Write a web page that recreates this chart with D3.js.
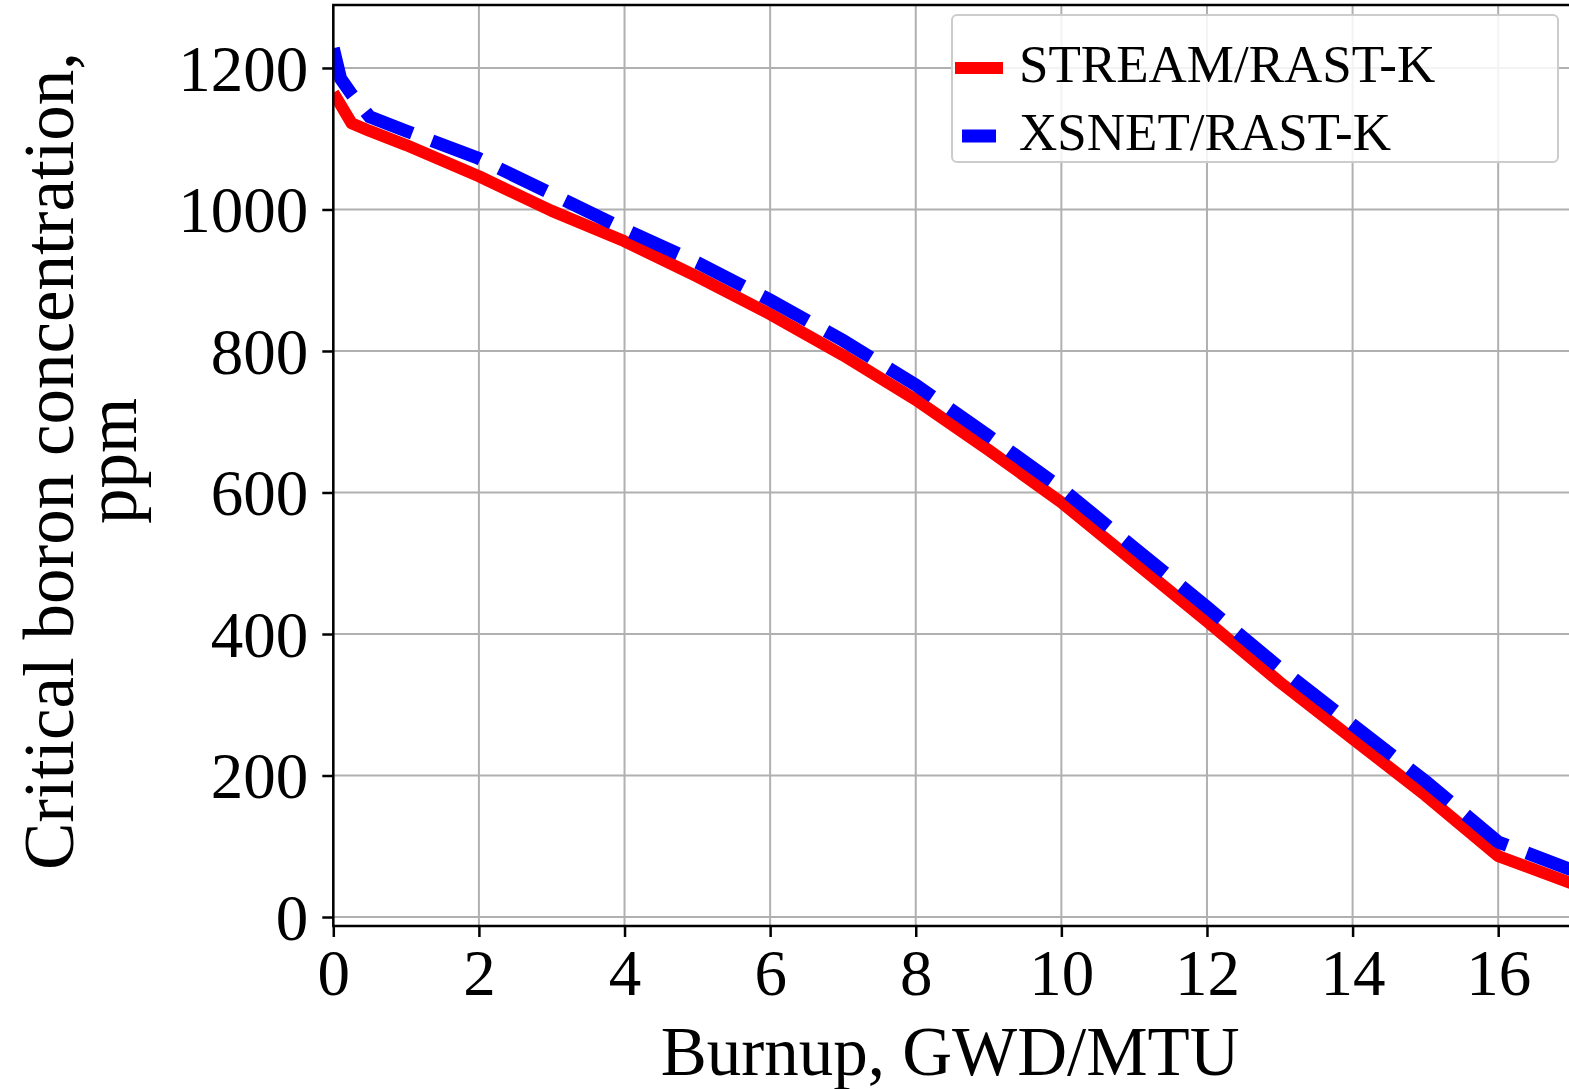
<!DOCTYPE html>
<html>
<head>
<meta charset="utf-8">
<script src="https://cdn.jsdelivr.net/npm/d3@7"></script>
<style>
  html, body { margin: 0; padding: 0; background: #fff; }
  svg { display: block; }
  text { font-family: "Liberation Serif", "Times New Roman", serif; fill: #000; }
</style>
</head>
<body>
<script>
// Burnup steps (GWD/MTU)
const burnup = [0, 0.1, 0.25, 0.5, 1, 2, 3, 4, 5, 6, 7, 8, 9, 10, 11, 12, 13, 14, 15, 16, 17];
// Critical boron concentration (ppm) per code system
const streamRastK = [1165, 1148, 1122, 1111, 1091, 1047, 998, 955, 905, 852, 794, 731, 660, 586, 502, 418, 332, 252, 172, 86, 48];
const xsnetRastK  = [1228, 1185, 1163, 1131, 1111, 1072, 1022, 972, 925, 872, 815, 752, 680, 606, 522, 438, 352, 272, 192, 106, 67];

const seriesNames = ["STREAM/RAST-K", "XSNET/RAST-K"];
const xTicks = [0, 2, 4, 6, 8, 10, 12, 14, 16];
const yTicks = [0, 200, 400, 600, 800, 1000, 1200];
const xTitle = "Burnup, GWD/MTU";
const yTitle = ["Critical boron concentration,", "ppm"];

const W = 1569, H = 1089;
const plot = { left: 333.3, right: 1571, top: 5, bottom: 926 };

const svg = d3.select("body").append("svg").attr("width", W).attr("height", H);

const x = d3.scaleLinear().domain([0, 17]).range([plot.left, plot.right]);
const y = d3.scaleLinear().domain([-12.7, 1289]).range([plot.bottom, plot.top]);

svg.append("defs").append("clipPath").attr("id", "plot-clip")
  .append("rect")
  .attr("x", plot.left).attr("y", plot.top)
  .attr("width", plot.right - plot.left).attr("height", plot.bottom - plot.top);

// grid
const grid = svg.append("g").attr("stroke", "#b0b0b0").attr("stroke-width", 2);
grid.selectAll("line.gx").data(xTicks).join("line")
  .attr("x1", d => x(d)).attr("x2", d => x(d))
  .attr("y1", plot.top).attr("y2", plot.bottom);
grid.selectAll("line.gy").data(yTicks).join("line")
  .attr("x1", plot.left).attr("x2", plot.right)
  .attr("y1", d => y(d)).attr("y2", d => y(d));

// curves
const rows = burnup.map((b, i) => ({ b, s: streamRastK[i], x: xsnetRastK[i] }));
const lineS = d3.line().x(d => x(d.b)).y(d => y(d.s));
const lineX = d3.line().x(d => x(d.b)).y(d => y(d.x));

const curves = svg.append("g").attr("clip-path", "url(#plot-clip)").attr("fill", "none");
curves.append("path").datum(rows).attr("d", lineS)
  .attr("stroke", "#ff0000").attr("stroke-width", 12).attr("stroke-linejoin", "round");
curves.append("path").datum(rows).attr("d", lineX)
  .attr("stroke", "#0000ff").attr("stroke-width", 13)
  .attr("stroke-dasharray", "52,21").attr("stroke-linecap", "butt");

// axes
const xAxis = d3.axisBottom(x).tickValues(xTicks).tickSize(11).tickPadding(10).tickFormat(d3.format("d"));
const yAxis = d3.axisLeft(y).tickValues(yTicks).tickSize(11).tickPadding(14).tickFormat(d3.format("d"));

const gx = svg.append("g").attr("transform", `translate(0,${plot.bottom})`).call(xAxis);
const gy = svg.append("g").attr("transform", `translate(${plot.left},0)`).call(yAxis);
[gx, gy].forEach(g => {
  g.select(".domain").remove();
  g.selectAll(".tick line").attr("stroke", "#000").attr("stroke-width", 2.5);
  g.selectAll(".tick text").attr("font-size", 65)
    .style("font-family", "'Liberation Serif', 'Times New Roman', serif").attr("fill", "#000");
});
gx.selectAll(".tick text").attr("dy", "0.74em");
gy.selectAll(".tick text").attr("dy", "0.34em");

// frame
svg.append("rect")
  .attr("x", plot.left).attr("y", plot.top)
  .attr("width", plot.right - plot.left).attr("height", plot.bottom - plot.top)
  .attr("fill", "none").attr("stroke", "#000").attr("stroke-width", 2.5);

// axis titles
svg.append("text").attr("x", (plot.left + plot.right) / 2 - 2).attr("y", 1075)
  .attr("text-anchor", "middle").attr("font-size", 69).text(xTitle);

const yt = svg.append("g").attr("transform", "translate(0,461) rotate(-90)");
yt.append("text").attr("x", 0).attr("y", 73).attr("text-anchor", "middle")
  .attr("font-size", 71).text(yTitle[0]);
yt.append("text").attr("x", 0).attr("y", 136).attr("text-anchor", "middle")
  .attr("font-size", 71).text(yTitle[1]);

// legend
const leg = svg.append("g");
leg.append("rect").attr("x", 952).attr("y", 15).attr("width", 606).attr("height", 147)
  .attr("rx", 5).attr("fill", "#fff").attr("fill-opacity", 0.85)
  .attr("stroke", "#cccccc").attr("stroke-width", 2);
const legItems = [
  { name: seriesNames[0], color: "#ff0000", x1: 955, x2: 1003, w: 12, yy: 68 },
  { name: seriesNames[1], color: "#0000ff", x1: 962, x2: 996, w: 13, yy: 136 }
];
legItems.forEach(it => {
  leg.append("line").attr("x1", it.x1).attr("x2", it.x2).attr("y1", it.yy).attr("y2", it.yy)
    .attr("stroke", it.color).attr("stroke-width", it.w);
  leg.append("text").attr("x", 1019).attr("y", it.yy + 14).attr("font-size", 53).text(it.name);
});
</script>
</body>
</html>
